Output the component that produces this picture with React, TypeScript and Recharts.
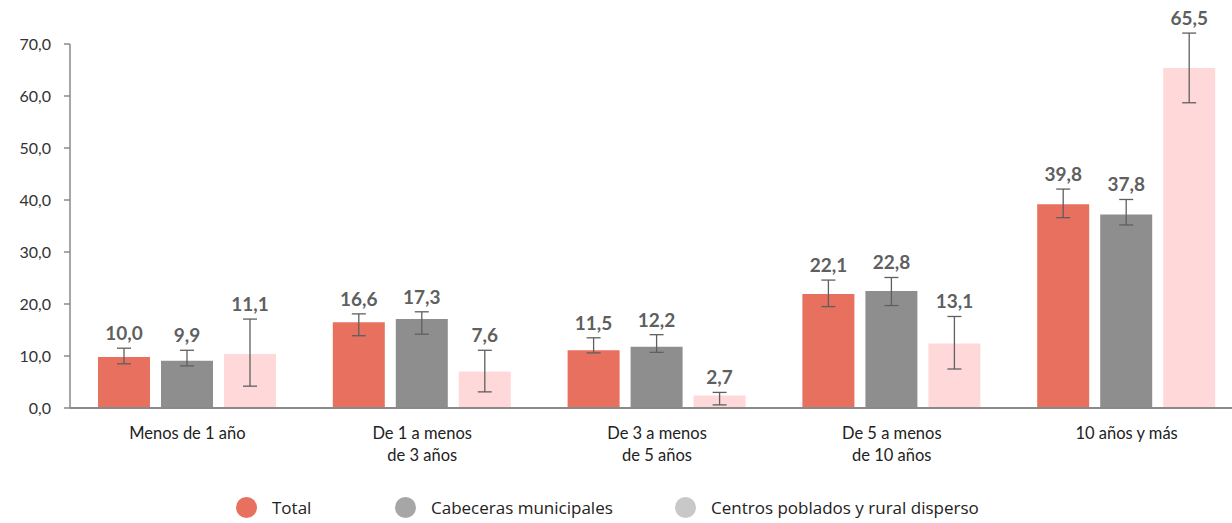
import { BarChart, Bar, XAxis, YAxis, ErrorBar, LabelList } from "recharts";

const categories = [
  "Menos de 1 año",
  "De 1 a menos\nde 3 años",
  "De 3 a menos\nde 5 años",
  "De 5 a menos\nde 10 años",
  "10 años y más",
];

// bar heights as drawn, labels as printed
const totalValues = [9.8, 16.5, 11.1, 21.9, 39.2];
const totalLabels = ["10,0", "16,6", "11,5", "22,1", "39,8"];
const totalLow = [8.5, 13.9, 10.6, 19.5, 36.6];
const totalHigh = [11.5, 18.1, 13.5, 24.6, 42.1];

const cabValues = [9.1, 17.1, 11.8, 22.5, 37.2];
const cabLabels = ["9,9", "17,3", "12,2", "22,8", "37,8"];
const cabLow = [8.1, 14.2, 10.7, 19.7, 35.2];
const cabHigh = [11.1, 18.5, 14.1, 25.1, 40.1];

const ruralValues = [10.4, 7.0, 2.4, 12.4, 65.4];
const ruralLabels = ["11,1", "7,6", "2,7", "13,1", "65,5"];
const ruralLow = [4.2, 3.1, 0.6, 7.5, 58.7];
const ruralHigh = [17.1, 11.1, 3.0, 17.6, 72.1];

const yTicks = [0, 10, 20, 30, 40, 50, 60, 70];

const seriesNames = ["Total", "Cabeceras municipales", "Centros poblados y rural disperso"];
const barColors = ["#E8705E", "#8E8E8E", "#FFD9DA"];
const legendColors = ["#E8705E", "#A6A6A6", "#C8C8C8"];
const legendLeft = [236, 395, 675];

const data = categories.map((name, i) => ({
  name,
  total: totalValues[i],
  totalErr: [totalValues[i] - totalLow[i], totalHigh[i] - totalValues[i]],
  cab: cabValues[i],
  cabErr: [cabValues[i] - cabLow[i], cabHigh[i] - cabValues[i]],
  rural: ruralValues[i],
  ruralErr: [ruralValues[i] - ruralLow[i], ruralHigh[i] - ruralValues[i]],
}));

const FONT = "Lato, 'Open Sans', sans-serif";
const LEGEND_FONT = "'Open Sans', Lato, sans-serif";

// label sits above the error bar top; pixel per unit taken from the bar itself
const makeLabel =
  (labels: string[], values: number[], highs: number[]) => (props: any) => {
    const vb = props.viewBox ?? props;
    const { x, y, width, height } = vb;
    const i = props.index;
    if (i == null || x == null) return null;
    const perUnit = height / values[i];
    const yTop = y + height - highs[i] * perUnit;
    return (
      <text
        x={x + width / 2}
        y={yTop - 8}
        textAnchor="middle"
        fontFamily={FONT}
        fontWeight={700}
        fontSize={19}
        fill="#5f5f5f"
      >
        {labels[i]}
      </text>
    );
  };

const CategoryTick = (props: any) => {
  const { x, y, payload } = props;
  const lines = String(payload.value).split("\n");
  return (
    <text
      x={x}
      y={y}
      textAnchor="middle"
      fontFamily={FONT}
      fontSize={16.5}
      fill="#222"
    >
      {lines.map((l, k) => (
        <tspan key={k} x={x} dy={k === 0 ? 31 : 22}>
          {l}
        </tspan>
      ))}
    </text>
  );
};

export default function App() {
  const series = [
    { key: "total", err: "totalErr", labels: totalLabels, values: totalValues, highs: totalHigh },
    { key: "cab", err: "cabErr", labels: cabLabels, values: cabValues, highs: cabHigh },
    { key: "rural", err: "ruralErr", labels: ruralLabels, values: ruralValues, highs: ruralHigh },
  ];
  return (
    <div
      style={{
        position: "fixed",
        top: 0,
        left: 0,
        width: 1232,
        height: 523,
        overflow: "hidden",
        background: "#fff",
      }}
    >
      <BarChart
        width={1250}
        height={523}
        data={data}
        margin={{ top: 44, right: 6, left: 0, bottom: 55 }}
        barCategoryGap={28}
        barGap={11}
      >
        <YAxis
          width={70}
          domain={[0, 70]}
          allowDataOverflow
          ticks={yTicks}
          interval={0}
          tickFormatter={(v: number) => v.toFixed(1).replace(".", ",")}
          axisLine={{ stroke: "#8a8a8a", strokeWidth: 1.5 }}
          tickLine={{ stroke: "#8a8a8a", strokeWidth: 1.5 }}
          tickSize={6}
          tickMargin={13}
          tick={{ fontFamily: FONT, fontSize: 16, fill: "#333" }}
        />
        <XAxis
          dataKey="name"
          height={60}
          axisLine={{ stroke: "#8a8a8a", strokeWidth: 2 }}
          tickLine={false}
          tickSize={0}
          tickMargin={0}
          interval={0}
          tick={<CategoryTick />}
        />
        {series.map((s, si) => (
          <Bar
            key={s.key}
            dataKey={s.key}
            fill={barColors[si]}
            isAnimationActive={false}
          >
            <ErrorBar
              dataKey={s.err}
              direction="y"
              width={7}
              stroke="#5f5f5f"
              strokeWidth={1.3}
              isAnimationActive={false}
            />
            <LabelList dataKey={s.key} content={makeLabel(s.labels, s.values, s.highs)} />
          </Bar>
        ))}
      </BarChart>
      {seriesNames.map((n, i) => (
        <div
          key={n}
          style={{
            position: "absolute",
            left: legendLeft[i],
            top: 497,
            height: 21,
            lineHeight: "21px",
            display: "flex",
            alignItems: "center",
            fontFamily: LEGEND_FONT,
            fontSize: 17,
            color: "#222",
            whiteSpace: "nowrap",
          }}
        >
          <span
            style={{
              width: 21,
              height: 21,
              borderRadius: "50%",
              background: legendColors[i],
              marginRight: 15,
              display: "inline-block",
              flexShrink: 0,
            }}
          />
          {n}
        </div>
      ))}
    </div>
  );
}
